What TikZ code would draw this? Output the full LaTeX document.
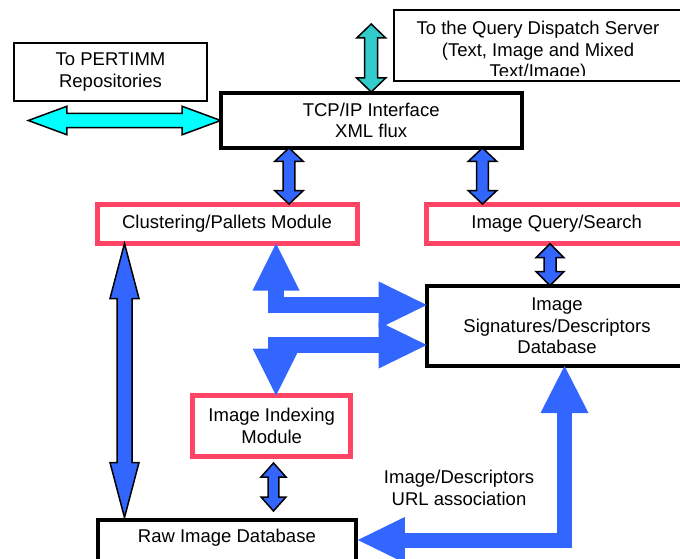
\documentclass[tikz,border=0pt]{standalone}
\usepackage{fontspec}
\setmainfont{Liberation Sans}
\usetikzlibrary{calc}

\definecolor{arrowblue}{HTML}{3366FF}
\definecolor{modpink}{HTML}{FF4466}
\definecolor{tealfill}{HTML}{33CCCC}
\definecolor{cyanfill}{HTML}{00FFFF}

% Vertical outlined double block arrow: style, x, top anchor, bottom anchor,
% shaft half width, head half width, head length
\newcommand\vblock[7]{%
  \path[#1] let \p1=(#3), \p2=(#4) in
    (#2pt,\y1) -- (#2pt+#6pt,\y1-#7pt) -- (#2pt+#5pt,\y1-#7pt)
    -- (#2pt+#5pt,\y2+#7pt) -- (#2pt+#6pt,\y2+#7pt) -- (#2pt,\y2)
    -- (#2pt-#6pt,\y2+#7pt) -- (#2pt-#5pt,\y2+#7pt)
    -- (#2pt-#5pt,\y1-#7pt) -- (#2pt-#6pt,\y1-#7pt) -- cycle;}

% Horizontal outlined double block arrow: style, left anchor, right anchor,
% shaft half width, head half width, head length
\newcommand\hblock[6]{%
  \path[#1] let \p1=(#2), \p2=(#3) in
    (\x1,\y2) -- (\x1+#6pt,\y2+#5pt) -- (\x1+#6pt,\y2+#4pt)
    -- (\x2-#6pt,\y2+#4pt) -- (\x2-#6pt,\y2+#5pt) -- (\x2,\y2)
    -- (\x2-#6pt,\y2-#5pt) -- (\x2-#6pt,\y2-#4pt)
    -- (\x1+#6pt,\y2-#4pt) -- (\x1+#6pt,\y2-#5pt) -- cycle;}

\begin{document}
\begin{tikzpicture}[x=1pt,y=-1pt,
  every node/.style={inner sep=0pt,outer sep=0pt,align=center,
    font=\fontsize{18.5}{21.5}\selectfont},
  thinbox/.style={draw=black,line width=2pt},
  thickbox/.style={draw=black,line width=4pt},
  modbox/.style={draw=modpink,line width=5pt},
  txt/.style={},
  blockarrow/.style={draw=black,line width=1.5pt,line join=miter,fill=arrowblue},
  cyanarrow/.style={blockarrow,fill=cyanfill},
  tealarrow/.style={blockarrow,fill=tealfill},
  bighead/.style={fill=arrowblue},
  bigshaft/.style={draw=arrowblue,line width=16pt,line join=miter}]

\useasboundingbox (0,0) rectangle (680,559);
\clip (0,0) rectangle (680,559);

% boxes
\node[thinbox,minimum width=192.4pt,minimum height=57.6pt] (pert) at (110.5,72.2)
  {To PERTIMM\\Repositories};
\node[thinbox,minimum width=290pt,minimum height=71.5pt] (qds) at (539,45.55) {};
\begin{scope}
  \clip (395,11) rectangle (684,76);
  \node[txt] (qdstext) at (538,51.5)
    {To the Query Dispatch Server\\(Text, Image and Mixed\\Text/Image)};
\end{scope}
\node[thickbox,minimum width=301pt,minimum height=55pt] (tcp) at (371.2,120.5)
  {TCP/IP Interface\\XML flux};
\node[modbox,minimum width=260pt,minimum height=39.5pt] (clus) at (227,223.75)
  {Clustering/Pallets Module};
\node[modbox,minimum width=260.4pt,minimum height=39.7pt] (iqs) at (556.7,223.85)
  {Image Query/Search};
\node[thickbox,minimum width=260.6pt,minimum height=80.5pt] (sig) at (557,325.75)
  {Image\\Signatures/Descriptors\\Database};
\node[modbox,minimum width=157.7pt,minimum height=60.8pt] (idx) at (271.7,425.9)
  {Image Indexing\\Module};
\node[thickbox,minimum width=257.8pt,minimum height=60.5pt] (raw) at (226.9,549.75) {};
\node[txt] (rawtext) at ($(raw.north)+(0,18)$) {Raw Image Database};

\node[txt] (urllabel) at (459,488) {Image/Descriptors\\URL association};

% free ends of the external links
\coordinate (cyanend) at (28.3,120.5);
\coordinate (tealend) at (371.2,24);

% outlined double arrows
\hblock{cyanarrow}{cyanend}{tcp.west}{7.2}{14.2}{38.5}
\vblock{tealarrow}{371.2}{tealend}{[yshift=1pt]tcp.north}{6.5}{14.5}{14}
\vblock{blockarrow}{289}{tcp.south}{clus.north}{5.8}{14.2}{13.3}
\vblock{blockarrow}{482.5}{tcp.south}{iqs.north}{5.8}{14.2}{13.3}
\vblock{blockarrow}{550}{iqs.south}{sig.north}{6}{14}{14}
\vblock{blockarrow}{124.5}{clus.south}{[yshift=2pt]raw.north}{7.5}{14.5}{55}
\vblock{blockarrow}{273.5}{[yshift=-6.7pt]idx.south}{[yshift=8.5pt]raw.north}{5.3}{12.5}{14}

% wide elbow arrows
\coordinate (colA) at (276,0);
\coordinate (rowA) at (0,305);
\coordinate (rowB) at (0,345);
\coordinate (colC) at (564.5,0);
\coordinate (rowC) at (0,540);

% clustering <-> signatures
\draw[bigshaft] ($(clus.south -| colA)+(0,45)$) |- ($(sig.west |- rowA)+(-46,0)$);
\fill[bighead] (clus.south -| colA) -- ++(23.5,47) -- ++(-47,0) -- cycle;
\fill[bighead] (sig.west |- rowA) -- ++(-48,-23.5) -- ++(0,47) -- cycle;

% indexing <-> signatures
\draw[bigshaft] ($(idx.north -| colA)+(0,-45)$) |- ($(sig.west |- rowB)+(-46,0)$);
\fill[bighead] (idx.north -| colA) -- ++(23.5,-47) -- ++(-47,0) -- cycle;
\fill[bighead] (sig.west |- rowB) -- ++(-48,-23.5) -- ++(0,47) -- cycle;

% raw database <-> signatures
\draw[bigshaft,line width=15pt] ($(sig.south -| colC)+(0,45)$) |- ($(raw.east |- rowC)+(47,0)$);
\fill[bighead] (sig.south -| colC) -- ++(24,47) -- ++(-48,0) -- cycle;
\fill[bighead] ($(raw.east |- rowC)+(2,0)$) -- ++(47,-23) -- ++(0,46) -- cycle;
\end{tikzpicture}
\end{document}
